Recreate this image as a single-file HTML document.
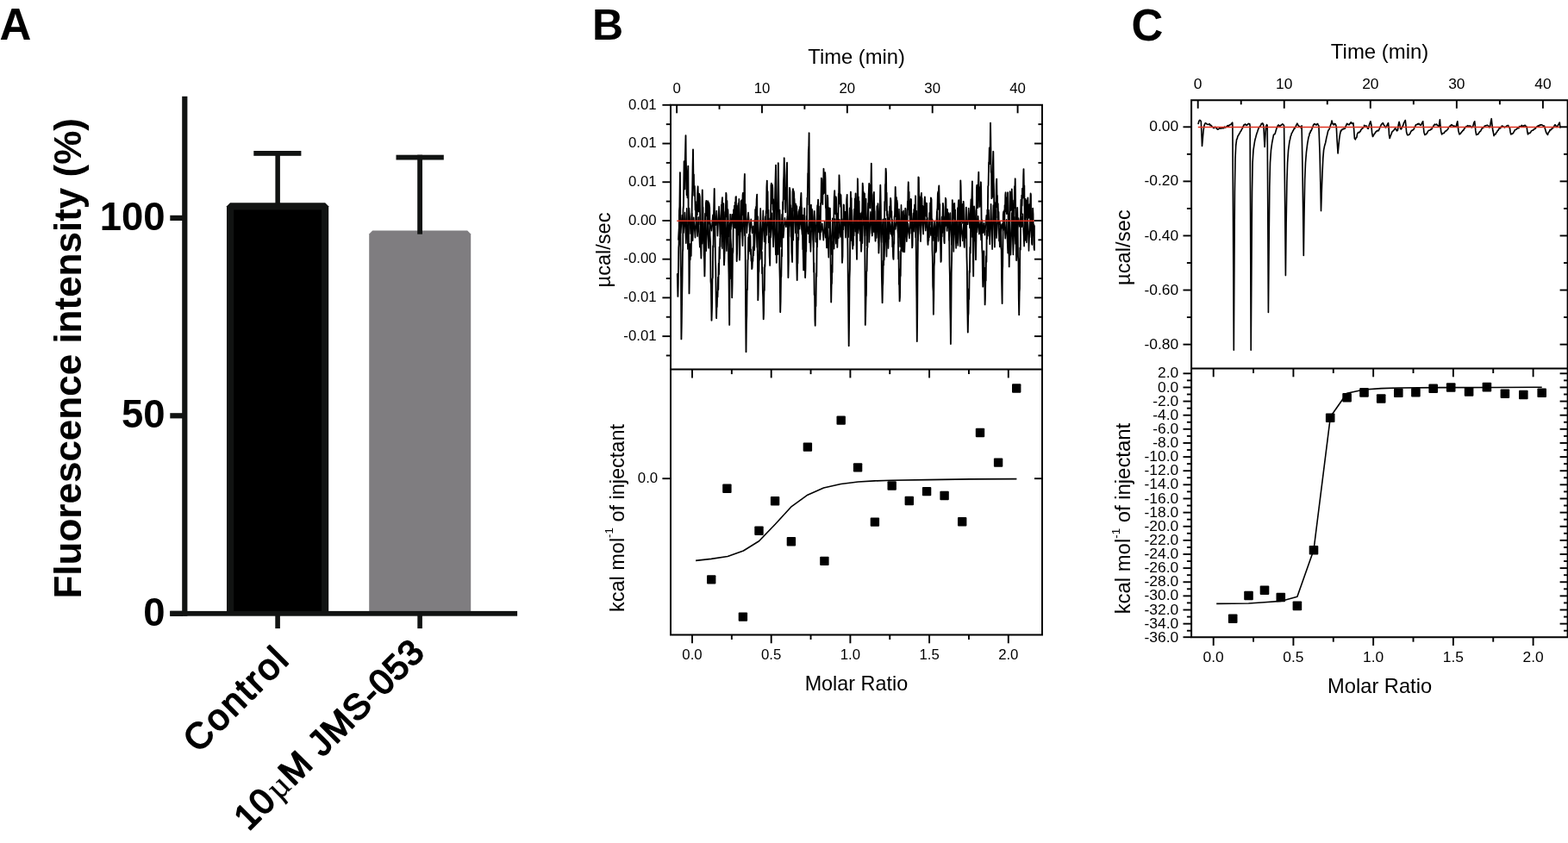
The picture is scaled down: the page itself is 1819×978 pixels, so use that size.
<!DOCTYPE html>
<html lang="en">
<head>
<meta charset="utf-8">
<title>Figure: fluorescence intensity and ITC binding</title>
<style>
html,body{margin:0;padding:0;background:#fff;}
body{width:1819px;height:978px;overflow:hidden;}
svg{display:block;}
text{font-family:"Liberation Sans",Arial,Helvetica,sans-serif;fill:#000;}
</style>
</head>
<body>
<svg width="1819" height="978" viewBox="0 0 1819 978">
<rect x="0" y="0" width="1819" height="978" fill="#fff"/>
<g id="panelA">
<text x="-0.50" y="46.00" font-size="51" font-weight="bold" text-anchor="start">A</text>
<path d="M263.0 710.0 L263.0 239.2 L267.0 235.2 L377.2 235.2 L381.2 239.2 L381.2 710.0 Z" fill="#111312"/>
<rect x="271.20" y="243.40" width="101.80" height="466.60" fill="#000"/>
<path d="M428.2 710.0 L428.2 271.4 L432.2 267.4 L542.2 267.4 L546.2 271.4 L546.2 710.0 Z" fill="#7f7d80"/>
<rect x="319.40" y="175.00" width="5.50" height="62.00" fill="#111312"/>
<rect x="294.30" y="175.00" width="55.10" height="5.80" fill="#111312"/>
<rect x="484.20" y="179.70" width="5.80" height="92.00" fill="#111312"/>
<rect x="459.50" y="179.70" width="55.30" height="5.80" fill="#111312"/>
<rect x="211.20" y="111.80" width="6.20" height="602.90" fill="#111312"/>
<rect x="197.30" y="708.90" width="402.80" height="5.80" fill="#111312"/>
<rect x="197.30" y="249.80" width="14.70" height="6.20" fill="#111312"/>
<rect x="197.30" y="479.20" width="14.70" height="6.20" fill="#111312"/>
<rect x="197.30" y="708.70" width="14.70" height="6.20" fill="#111312"/>
<rect x="319.30" y="714.00" width="5.60" height="15.10" fill="#111312"/>
<rect x="484.30" y="714.00" width="5.60" height="15.10" fill="#111312"/>
<text x="191.60" y="266.60" font-size="45.5" font-weight="bold" text-anchor="end">100</text>
<text x="191.60" y="496.00" font-size="45.5" font-weight="bold" text-anchor="end">50</text>
<text x="191.60" y="725.50" font-size="45.5" font-weight="bold" text-anchor="end">0</text>
<text x="94.30" y="415.80" font-size="44" font-weight="bold" text-anchor="middle" transform="rotate(-90 94.30 415.80)" textLength="557.50" lengthAdjust="spacingAndGlyphs">Fluorescence intensity (%)</text>
<text x="338.20" y="766.40" font-size="42" font-weight="normal" text-anchor="end" transform="rotate(-45 338.20 766.40)" stroke="#000" stroke-width="1.8" stroke-linejoin="round" letter-spacing="2.5">Control</text>
<text x="494.9" y="758.4" font-size="41" text-anchor="end" transform="rotate(-45 494.9 758.4)" stroke="#000" stroke-width="1.8" stroke-linejoin="round" letter-spacing="1.0" xml:space="preserve">10<tspan font-family="'Liberation Serif','DejaVu Serif',serif" font-size="39" stroke-width="0.3" dx="2">µ</tspan>M JMS-053</text>
</g>
<g id="panelB">
<text x="686.90" y="46.20" font-size="50" font-weight="bold" text-anchor="start">B</text>
<g fill="none" stroke="#000" stroke-width="2.0" stroke-linecap="square">
<path d="M778.0 121.8 L1209.0 121.8 L1209.0 736.5 L778.0 736.5 Z M778.0 428.6 L1209.0 428.6"/>
</g>
<g stroke="#000" stroke-width="1.9">
<line x1="785.10" y1="121.8" x2="785.10" y2="131.30"/>
<line x1="834.54" y1="121.8" x2="834.54" y2="126.80"/>
<line x1="883.97" y1="121.8" x2="883.97" y2="131.30"/>
<line x1="933.40" y1="121.8" x2="933.40" y2="126.80"/>
<line x1="982.84" y1="121.8" x2="982.84" y2="131.30"/>
<line x1="1032.28" y1="121.8" x2="1032.28" y2="126.80"/>
<line x1="1081.71" y1="121.8" x2="1081.71" y2="131.30"/>
<line x1="1131.14" y1="121.8" x2="1131.14" y2="126.80"/>
<line x1="1180.58" y1="121.8" x2="1180.58" y2="131.30"/>
<line x1="803.00" y1="428.6" x2="803.00" y2="438.40"/>
<line x1="803.00" y1="736.5" x2="803.00" y2="746.30"/>
<line x1="848.85" y1="428.6" x2="848.85" y2="434.10"/>
<line x1="848.85" y1="736.5" x2="848.85" y2="742.00"/>
<line x1="894.70" y1="428.6" x2="894.70" y2="438.40"/>
<line x1="894.70" y1="736.5" x2="894.70" y2="746.30"/>
<line x1="940.55" y1="428.6" x2="940.55" y2="434.10"/>
<line x1="940.55" y1="736.5" x2="940.55" y2="742.00"/>
<line x1="986.40" y1="428.6" x2="986.40" y2="438.40"/>
<line x1="986.40" y1="736.5" x2="986.40" y2="746.30"/>
<line x1="1032.25" y1="428.6" x2="1032.25" y2="434.10"/>
<line x1="1032.25" y1="736.5" x2="1032.25" y2="742.00"/>
<line x1="1078.10" y1="428.6" x2="1078.10" y2="438.40"/>
<line x1="1078.10" y1="736.5" x2="1078.10" y2="746.30"/>
<line x1="1123.95" y1="428.6" x2="1123.95" y2="434.10"/>
<line x1="1123.95" y1="736.5" x2="1123.95" y2="742.00"/>
<line x1="1169.80" y1="428.6" x2="1169.80" y2="438.40"/>
<line x1="1169.80" y1="736.5" x2="1169.80" y2="746.30"/>
<line x1="768.40" y1="166.52" x2="778.0" y2="166.52"/>
<line x1="1200.00" y1="166.52" x2="1209.0" y2="166.52"/>
<line x1="768.40" y1="211.24" x2="778.0" y2="211.24"/>
<line x1="1200.00" y1="211.24" x2="1209.0" y2="211.24"/>
<line x1="768.40" y1="255.96" x2="778.0" y2="255.96"/>
<line x1="1200.00" y1="255.96" x2="1209.0" y2="255.96"/>
<line x1="768.40" y1="300.68" x2="778.0" y2="300.68"/>
<line x1="1200.00" y1="300.68" x2="1209.0" y2="300.68"/>
<line x1="768.40" y1="345.40" x2="778.0" y2="345.40"/>
<line x1="1200.00" y1="345.40" x2="1209.0" y2="345.40"/>
<line x1="768.40" y1="390.12" x2="778.0" y2="390.12"/>
<line x1="1200.00" y1="390.12" x2="1209.0" y2="390.12"/>
<line x1="772.80" y1="144.16" x2="778.0" y2="144.16"/>
<line x1="1204.40" y1="144.16" x2="1209.0" y2="144.16"/>
<line x1="772.80" y1="188.88" x2="778.0" y2="188.88"/>
<line x1="1204.40" y1="188.88" x2="1209.0" y2="188.88"/>
<line x1="772.80" y1="233.60" x2="778.0" y2="233.60"/>
<line x1="1204.40" y1="233.60" x2="1209.0" y2="233.60"/>
<line x1="772.80" y1="278.32" x2="778.0" y2="278.32"/>
<line x1="1204.40" y1="278.32" x2="1209.0" y2="278.32"/>
<line x1="772.80" y1="323.04" x2="778.0" y2="323.04"/>
<line x1="1204.40" y1="323.04" x2="1209.0" y2="323.04"/>
<line x1="772.80" y1="367.76" x2="778.0" y2="367.76"/>
<line x1="1204.40" y1="367.76" x2="1209.0" y2="367.76"/>
<line x1="772.80" y1="412.48" x2="778.0" y2="412.48"/>
<line x1="1204.40" y1="412.48" x2="1209.0" y2="412.48"/>
<line x1="768.40" y1="555.20" x2="778.0" y2="555.20"/>
<line x1="1200.00" y1="555.20" x2="1209.0" y2="555.20"/>
</g>
<line x1="768.40" y1="121.8" x2="778.0" y2="121.8" stroke="#000" stroke-width="1.9"/>
<text x="785.10" y="107.50" font-size="16.8" font-weight="normal" text-anchor="middle">0</text>
<text x="883.97" y="107.50" font-size="16.8" font-weight="normal" text-anchor="middle">10</text>
<text x="982.84" y="107.50" font-size="16.8" font-weight="normal" text-anchor="middle">20</text>
<text x="1081.71" y="107.50" font-size="16.8" font-weight="normal" text-anchor="middle">30</text>
<text x="1180.58" y="107.50" font-size="16.8" font-weight="normal" text-anchor="middle">40</text>
<text x="993.60" y="74.20" font-size="24" font-weight="normal" text-anchor="middle" textLength="112.60" lengthAdjust="spacingAndGlyphs">Time (min)</text>
<text x="761.60" y="126.60" font-size="16.8" font-weight="normal" text-anchor="end">0.01</text>
<text x="761.60" y="171.32" font-size="16.8" font-weight="normal" text-anchor="end">0.01</text>
<text x="761.60" y="216.04" font-size="16.8" font-weight="normal" text-anchor="end">0.01</text>
<text x="761.60" y="260.76" font-size="16.8" font-weight="normal" text-anchor="end">0.00</text>
<text x="761.60" y="305.48" font-size="16.8" font-weight="normal" text-anchor="end">-0.00</text>
<text x="761.60" y="350.20" font-size="16.8" font-weight="normal" text-anchor="end">-0.01</text>
<text x="761.60" y="394.92" font-size="16.8" font-weight="normal" text-anchor="end">-0.01</text>
<text x="763.20" y="560.10" font-size="16.8" font-weight="normal" text-anchor="end">0.0</text>
<text x="803.00" y="764.80" font-size="16.8" font-weight="normal" text-anchor="middle">0.0</text>
<text x="894.70" y="764.80" font-size="16.8" font-weight="normal" text-anchor="middle">0.5</text>
<text x="986.40" y="764.80" font-size="16.8" font-weight="normal" text-anchor="middle">1.0</text>
<text x="1078.10" y="764.80" font-size="16.8" font-weight="normal" text-anchor="middle">1.5</text>
<text x="1169.80" y="764.80" font-size="16.8" font-weight="normal" text-anchor="middle">2.0</text>
<text x="993.40" y="800.90" font-size="24" font-weight="normal" text-anchor="middle" textLength="119.50" lengthAdjust="spacingAndGlyphs">Molar Ratio</text>
<text x="708.40" y="290.00" font-size="24" font-weight="normal" text-anchor="middle" transform="rotate(-90 708.40 290.00)" textLength="86.80" lengthAdjust="spacingAndGlyphs">µcal/sec</text>
<text x="723.8" y="601" font-size="24" text-anchor="middle" transform="rotate(-90 723.8 601)" textLength="218" lengthAdjust="spacingAndGlyphs">kcal mol<tspan font-size="13.5" dy="-12.5">-1</tspan><tspan dy="12.5"> of injectant</tspan></text>
<path d="M785.8 318.0 L786.4 343.9 L786.8 328.6 L787.3 287.3 L787.6 283.7 L788.0 244.7 L788.4 239.8 L788.9 200.1 L789.2 239.6 L789.7 308.5 L790.0 322.0 L790.4 393.4 L790.8 373.6 L791.2 342.7 L791.5 325.3 L791.9 292.8 L792.2 288.6 L792.5 243.4 L792.9 238.9 L793.6 187.3 L794.0 192.3 L794.3 219.4 L794.8 185.4 L795.5 157.2 L795.8 186.1 L796.2 198.6 L796.6 226.3 L797.0 215.0 L797.5 229.3 L797.8 205.3 L798.3 192.6 L798.7 254.4 L799.1 283.4 L799.5 340.4 L799.9 317.9 L800.2 291.7 L800.7 301.4 L801.0 282.9 L801.3 295.4 L801.7 296.9 L802.1 273.1 L802.4 265.0 L802.8 232.0 L803.2 220.9 L803.6 192.0 L804.0 173.4 L804.5 214.3 L804.9 202.3 L805.2 226.8 L805.8 215.9 L806.2 224.4 L806.6 243.4 L807.0 233.9 L807.3 256.4 L807.6 246.0 L808.0 256.3 L808.4 238.0 L808.8 249.2 L809.2 222.9 L809.6 216.3 L810.0 230.5 L810.4 224.4 L810.7 245.4 L811.2 225.0 L811.8 228.3 L812.2 260.2 L812.6 257.6 L812.9 284.1 L813.4 299.5 L813.7 271.3 L814.1 274.5 L814.4 233.6 L814.8 220.5 L815.2 239.7 L815.5 240.7 L816.0 277.1 L816.3 266.0 L816.7 296.1 L817.0 300.1 L817.4 320.4 L817.7 308.7 L818.1 276.1 L818.4 274.5 L818.9 235.9 L819.3 233.0 L819.7 250.4 L820.0 240.5 L820.5 247.3 L820.8 233.8 L821.1 233.3 L821.5 256.0 L821.8 234.3 L822.1 259.6 L822.6 236.0 L823.2 240.9 L823.6 273.1 L824.1 282.1 L824.5 326.5 L824.9 330.5 L825.5 371.7 L826.0 356.8 L826.4 323.9 L826.8 321.9 L827.1 285.3 L827.5 286.8 L828.0 247.2 L828.7 219.0 L829.1 249.2 L829.5 265.5 L829.9 300.3 L830.3 312.0 L830.7 349.4 L831.1 369.1 L831.5 354.3 L831.8 356.3 L832.2 339.3 L832.5 344.5 L833.0 321.6 L833.3 336.0 L833.7 305.6 L834.0 318.2 L834.5 286.8 L834.9 300.0 L835.3 276.6 L835.6 286.0 L836.0 257.1 L836.5 271.1 L836.8 249.0 L837.2 249.5 L837.5 234.4 L838.0 229.1 L838.4 249.3 L838.8 246.6 L839.2 280.3 L839.5 276.5 L840.0 307.4 L840.4 299.5 L840.7 268.1 L841.0 274.1 L841.4 251.0 L841.8 244.1 L842.3 223.8 L842.6 226.2 L842.9 251.3 L843.4 233.0 L843.8 255.8 L844.4 243.1 L844.8 266.4 L845.1 301.9 L845.5 318.1 L845.9 355.0 L846.2 376.9 L846.6 320.2 L847.3 248.8 L847.6 276.3 L848.1 284.9 L848.5 323.5 L848.9 322.7 L849.2 345.3 L849.6 328.4 L850.0 288.3 L850.4 292.9 L850.8 252.5 L851.1 243.1 L851.6 254.8 L852.0 238.8 L852.3 264.0 L852.8 234.6 L853.1 254.8 L853.5 228.7 L853.9 228.1 L854.7 303.0 L855.1 293.6 L855.5 266.8 L855.9 270.0 L856.2 240.4 L856.6 235.9 L857.0 263.1 L857.4 263.6 L857.9 301.6 L858.2 295.6 L858.6 259.1 L859.0 268.8 L859.6 233.1 L860.0 235.9 L860.4 252.0 L860.7 231.9 L861.1 249.6 L861.6 226.1 L861.9 224.0 L862.2 238.3 L862.7 226.7 L863.1 243.2 L863.5 211.0 L863.9 202.0 L864.3 258.1 L864.7 296.3 L865.1 365.7 L865.5 408.2 L865.9 376.1 L866.3 365.5 L866.6 335.8 L867.0 336.0 L867.5 301.8 L867.8 300.9 L868.2 275.2 L868.6 289.9 L869.0 271.9 L869.4 291.4 L869.7 266.1 L870.0 286.2 L870.4 273.3 L870.7 294.7 L871.1 289.5 L871.5 302.6 L871.9 300.1 L872.2 312.1 L872.6 310.8 L873.0 301.2 L873.4 303.0 L873.7 286.4 L874.1 296.3 L874.6 271.5 L875.0 281.2 L875.4 255.4 L875.9 268.8 L876.2 242.9 L876.5 264.0 L877.0 240.0 L877.3 246.9 L877.7 231.0 L878.2 225.6 L878.6 280.2 L878.9 297.9 L879.3 348.2 L879.6 341.1 L880.0 317.0 L880.4 314.7 L880.8 290.6 L881.2 301.5 L881.5 280.8 L881.8 285.1 L882.2 268.3 L882.6 283.4 L882.9 274.0 L883.4 300.3 L883.8 292.2 L884.1 317.3 L884.5 310.1 L884.9 338.4 L885.2 345.3 L885.7 370.3 L886.0 364.3 L886.4 337.3 L886.8 337.1 L887.2 306.9 L887.5 309.4 L887.8 274.2 L888.2 282.6 L888.7 244.9 L889.0 247.5 L889.4 217.0 L889.8 209.6 L890.1 227.3 L890.6 222.1 L891.0 252.3 L891.4 243.7 L891.8 281.3 L892.3 274.7 L892.7 296.9 L893.2 307.9 L893.5 278.8 L893.9 269.0 L894.5 215.2 L894.9 212.6 L895.3 235.8 L896.0 214.5 L896.3 218.6 L896.7 243.4 L897.1 231.1 L897.5 261.4 L897.8 238.2 L898.3 254.0 L898.6 237.5 L898.9 239.8 L899.3 217.7 L900.0 191.6 L900.8 304.8 L901.2 289.4 L901.7 246.3 L902.1 240.3 L902.8 189.1 L903.1 205.8 L903.6 247.6 L904.0 271.1 L904.4 310.1 L904.8 325.6 L905.2 362.1 L905.6 349.1 L906.0 321.7 L906.3 321.0 L906.8 289.7 L907.1 297.2 L907.4 267.7 L907.8 262.8 L908.1 234.2 L908.5 243.0 L908.9 211.7 L909.3 204.0 L909.7 183.3 L910.1 199.0 L910.5 231.2 L910.9 219.8 L911.3 246.2 L911.7 217.8 L912.1 231.4 L912.4 204.4 L913.0 188.7 L913.3 224.5 L913.7 252.7 L914.4 322.1 L914.8 303.4 L915.1 263.8 L915.5 261.9 L916.0 218.0 L916.5 221.6 L916.9 248.3 L917.2 238.2 L917.6 274.2 L918.0 266.9 L918.4 292.7 L919.1 303.9 L919.6 223.0 L920.0 219.1 L920.3 236.7 L920.7 221.6 L921.2 224.7 L921.5 244.7 L921.8 236.0 L922.2 250.0 L922.6 238.8 L923.1 236.6 L923.6 268.4 L924.0 274.9 L924.3 309.5 L924.7 325.1 L925.1 302.1 L925.4 305.4 L925.9 275.6 L926.3 278.3 L926.6 255.1 L927.2 243.1 L927.5 252.4 L928.0 240.0 L928.4 258.6 L928.8 233.5 L929.4 224.0 L929.8 242.3 L930.1 240.9 L930.5 266.4 L930.9 263.7 L931.3 289.3 L931.6 287.7 L932.2 313.4 L932.5 299.6 L933.2 241.7 L933.5 266.9 L934.1 322.1 L934.5 311.0 L934.8 287.0 L935.2 291.8 L935.7 250.7 L936.0 262.7 L936.4 229.6 L936.7 237.6 L937.2 201.2 L937.5 200.3 L937.9 175.2 L938.3 170.4 L938.6 154.3 L939.1 281.3 L939.5 259.1 L940.0 264.2 L940.5 239.5 L940.9 237.7 L941.2 255.3 L941.6 244.1 L942.0 268.4 L942.4 244.3 L942.9 252.4 L943.3 277.5 L943.6 279.6 L944.0 315.5 L944.3 305.1 L944.7 342.0 L945.1 343.0 L945.4 370.4 L945.7 377.8 L946.1 354.2 L946.5 355.2 L946.9 317.1 L947.3 320.8 L947.7 277.2 L948.1 286.2 L948.5 247.8 L949.1 231.6 L949.5 250.6 L949.9 239.3 L950.3 269.6 L950.8 260.0 L951.3 277.8 L951.6 272.6 L952.1 235.6 L952.4 235.2 L952.9 206.6 L953.3 207.8 L953.6 230.8 L953.9 219.6 L954.3 237.1 L954.6 218.5 L955.0 225.3 L955.5 195.8 L955.8 204.3 L956.2 223.8 L956.6 208.1 L956.9 215.0 L957.2 200.1 L957.5 206.8 L957.9 240.8 L958.3 242.2 L958.7 277.8 L959.1 287.4 L959.9 226.6 L960.3 229.9 L960.7 252.6 L961.1 244.8 L961.5 264.0 L961.9 241.3 L962.3 253.1 L962.9 241.7 L963.3 272.1 L963.7 314.4 L964.2 350.5 L964.6 330.3 L965.0 328.6 L965.3 307.7 L965.6 316.1 L966.0 280.3 L966.5 283.6 L966.9 259.4 L967.3 254.3 L967.7 229.5 L968.2 221.2 L968.6 234.8 L969.0 233.0 L969.3 248.3 L969.8 228.3 L970.1 230.9 L970.5 258.6 L970.8 251.4 L971.3 286.9 L971.7 275.4 L972.1 247.4 L972.4 257.7 L972.8 224.8 L973.1 225.5 L973.5 203.3 L974.0 214.9 L974.4 236.4 L974.7 225.1 L975.2 239.8 L975.5 226.2 L975.8 236.3 L976.3 271.0 L976.6 277.9 L977.0 304.8 L977.5 297.1 L977.8 262.2 L978.2 266.3 L978.7 237.4 L979.0 238.0 L979.4 254.7 L979.7 245.7 L980.2 261.7 L980.6 246.0 L981.0 262.5 L981.5 246.6 L981.8 250.1 L982.2 231.0 L982.7 225.9 L983.1 267.8 L983.5 288.9 L983.8 329.4 L984.1 345.1 L984.7 401.2 L985.1 371.1 L985.5 322.9 L985.9 311.9 L986.3 263.2 L986.9 222.6 L987.2 236.3 L987.6 229.8 L988.0 266.2 L988.4 262.3 L988.7 281.7 L989.2 288.6 L989.5 278.2 L989.9 284.8 L990.3 257.4 L990.6 273.3 L991.1 242.8 L991.4 254.7 L991.8 230.5 L992.2 236.7 L992.6 224.5 L993.0 241.6 L993.5 280.9 L994.0 300.8 L994.9 207.3 L995.2 217.7 L995.6 245.4 L995.9 228.4 L996.3 254.4 L996.6 233.4 L996.9 255.2 L997.3 247.4 L997.7 249.3 L998.0 279.2 L998.5 265.0 L999.1 291.7 L999.4 285.8 L999.8 246.3 L1000.1 253.4 L1000.7 212.7 L1001.1 217.4 L1001.4 235.7 L1001.7 222.6 L1002.2 248.4 L1002.5 224.9 L1003.0 224.5 L1003.8 376.9 L1004.1 368.9 L1004.6 344.5 L1004.9 342.6 L1005.2 315.6 L1005.6 314.3 L1006.0 287.3 L1006.4 287.1 L1006.8 260.7 L1007.2 253.7 L1007.7 226.3 L1008.2 213.0 L1008.5 227.9 L1009.0 218.0 L1009.4 241.3 L1009.8 214.5 L1010.3 219.0 L1010.8 189.7 L1011.1 208.4 L1011.8 273.5 L1012.2 270.5 L1012.6 246.6 L1012.9 258.4 L1013.4 226.1 L1013.9 223.0 L1014.3 243.0 L1014.7 245.4 L1015.0 269.0 L1015.6 279.6 L1016.0 271.3 L1016.4 276.1 L1016.7 255.8 L1017.1 264.0 L1017.4 239.3 L1017.8 254.6 L1018.5 236.2 L1018.9 246.2 L1019.4 293.5 L1019.8 284.1 L1020.3 253.0 L1020.7 245.5 L1021.3 214.7 L1021.8 239.2 L1022.1 269.5 L1022.5 279.4 L1022.9 322.2 L1023.6 351.2 L1024.0 331.9 L1024.3 328.5 L1024.7 302.4 L1025.1 307.5 L1025.5 267.3 L1025.9 270.8 L1026.3 233.9 L1026.7 244.3 L1027.0 214.0 L1027.3 214.3 L1027.6 195.6 L1028.0 200.3 L1028.3 228.9 L1028.6 223.6 L1029.0 249.9 L1029.5 245.2 L1029.9 275.3 L1030.4 287.9 L1030.8 272.3 L1031.1 277.1 L1031.5 252.6 L1031.8 263.0 L1032.2 239.4 L1032.6 246.4 L1033.1 229.9 L1033.5 232.8 L1033.9 252.0 L1034.3 245.1 L1034.7 274.0 L1035.0 254.9 L1035.3 286.3 L1035.7 282.1 L1036.1 297.8 L1036.5 300.9 L1036.9 281.1 L1037.2 283.0 L1037.6 251.6 L1038.0 249.3 L1038.7 217.0 L1039.1 228.7 L1039.5 251.4 L1039.9 228.9 L1040.2 247.9 L1040.6 232.5 L1041.0 236.6 L1041.4 262.3 L1041.7 262.1 L1042.2 300.6 L1042.6 291.7 L1042.9 330.1 L1043.2 327.0 L1043.6 349.4 L1044.0 344.4 L1044.4 312.4 L1044.7 320.4 L1045.1 290.0 L1045.4 291.9 L1045.8 264.4 L1046.2 270.1 L1046.7 246.0 L1047.0 256.2 L1047.4 284.3 L1047.8 292.1 L1048.1 277.3 L1048.4 290.4 L1048.8 261.3 L1049.2 268.9 L1049.6 249.6 L1049.9 254.7 L1050.3 241.7 L1050.6 243.0 L1051.0 259.6 L1051.5 256.6 L1052.1 272.6 L1052.4 269.4 L1052.9 233.4 L1053.2 243.1 L1053.5 217.8 L1053.8 211.3 L1054.2 227.7 L1054.6 222.7 L1054.9 249.5 L1055.3 240.0 L1055.7 256.7 L1056.0 233.9 L1056.3 241.5 L1056.7 230.9 L1057.0 231.5 L1057.4 270.7 L1057.8 265.7 L1058.2 287.4 L1058.5 284.8 L1059.0 256.7 L1059.6 247.4 L1060.0 256.5 L1060.3 243.0 L1060.7 255.3 L1061.1 237.5 L1061.5 251.1 L1062.1 227.3 L1062.5 258.6 L1063.0 316.9 L1063.4 346.2 L1063.8 396.0 L1064.2 364.6 L1064.5 312.6 L1064.8 288.0 L1065.4 205.4 L1065.8 206.0 L1066.2 239.4 L1066.6 228.2 L1066.9 256.3 L1067.2 249.3 L1067.8 271.7 L1068.2 263.0 L1068.5 227.3 L1068.9 224.0 L1069.2 236.5 L1069.5 229.9 L1069.9 256.5 L1070.3 238.7 L1070.6 261.6 L1071.0 249.8 L1071.4 259.6 L1071.8 239.5 L1072.2 248.4 L1072.5 233.8 L1072.9 228.5 L1073.3 240.5 L1073.6 234.9 L1074.0 250.7 L1074.4 237.5 L1075.0 235.9 L1075.4 253.8 L1075.8 252.8 L1076.2 279.7 L1076.5 283.9 L1077.0 274.3 L1077.3 279.1 L1077.6 265.2 L1077.9 275.2 L1078.3 246.9 L1078.8 260.8 L1079.2 235.5 L1079.5 253.0 L1079.9 229.4 L1080.5 231.2 L1080.8 256.2 L1081.1 259.2 L1081.5 290.5 L1081.8 297.9 L1082.2 332.1 L1082.6 337.9 L1082.9 364.7 L1083.3 343.2 L1083.6 309.4 L1084.0 303.2 L1084.3 275.4 L1084.7 291.2 L1085.1 279.3 L1085.5 292.6 L1086.1 290.8 L1086.4 274.3 L1086.8 274.2 L1087.2 243.2 L1087.5 241.4 L1087.9 224.5 L1088.4 222.1 L1088.7 242.7 L1089.0 218.5 L1089.3 215.5 L1089.8 240.4 L1090.2 236.9 L1090.6 279.0 L1091.0 278.7 L1091.5 303.9 L1091.8 302.6 L1092.2 274.9 L1092.7 274.4 L1093.0 252.0 L1093.4 257.6 L1093.9 235.9 L1094.3 240.3 L1094.6 264.8 L1094.9 259.0 L1095.3 279.4 L1095.6 282.2 L1096.0 257.2 L1096.4 261.8 L1096.9 229.8 L1097.4 231.5 L1097.7 252.6 L1098.2 246.4 L1098.6 267.8 L1099.0 242.8 L1099.4 261.8 L1099.8 246.6 L1100.2 256.9 L1100.8 248.1 L1101.2 270.6 L1101.6 307.9 L1101.9 320.6 L1102.3 358.3 L1102.6 372.3 L1102.9 399.1 L1103.3 366.3 L1103.7 316.8 L1104.1 300.9 L1104.8 232.1 L1105.2 237.3 L1105.6 253.9 L1106.0 239.5 L1106.4 252.5 L1106.8 236.7 L1107.2 235.9 L1107.7 253.7 L1108.1 243.4 L1108.5 272.2 L1108.9 257.1 L1109.5 282.2 L1109.9 281.0 L1110.3 263.3 L1110.6 266.6 L1111.0 241.1 L1111.4 251.7 L1111.9 233.9 L1112.2 232.1 L1112.6 254.9 L1113.1 254.4 L1113.5 276.8 L1113.9 285.6 L1114.3 209.4 L1114.6 215.7 L1115.1 240.6 L1115.4 239.9 L1115.8 257.6 L1116.2 241.9 L1116.6 258.8 L1116.9 236.8 L1117.3 245.1 L1117.7 233.8 L1118.1 241.2 L1118.4 282.3 L1118.8 286.9 L1119.1 276.2 L1119.5 276.1 L1119.9 256.0 L1120.3 257.0 L1120.8 240.7 L1121.2 257.7 L1121.5 297.2 L1121.9 311.8 L1122.2 349.5 L1122.8 385.6 L1123.2 366.5 L1123.5 363.5 L1123.9 335.2 L1124.2 346.9 L1124.6 314.3 L1125.0 315.9 L1125.3 286.9 L1125.7 293.7 L1126.1 258.0 L1126.5 268.6 L1126.9 234.1 L1127.3 232.6 L1127.9 210.4 L1128.2 233.2 L1128.5 271.2 L1129.2 320.4 L1129.5 281.9 L1129.8 271.3 L1130.1 239.5 L1130.4 243.2 L1130.9 276.7 L1131.3 270.6 L1132.0 301.3 L1132.4 278.6 L1133.0 217.3 L1133.3 214.8 L1133.7 240.4 L1134.0 218.8 L1134.3 241.1 L1134.7 217.1 L1135.3 199.7 L1135.7 224.4 L1136.1 217.2 L1136.4 239.9 L1136.9 225.7 L1137.2 235.0 L1137.9 211.3 L1138.2 220.4 L1138.6 257.3 L1138.9 258.5 L1139.2 287.4 L1139.6 294.6 L1140.0 322.1 L1140.3 332.6 L1140.7 307.7 L1141.0 319.8 L1141.4 291.3 L1141.7 321.9 L1142.1 310.7 L1142.6 353.4 L1142.9 346.4 L1143.3 324.8 L1143.7 325.6 L1144.0 297.3 L1144.4 303.7 L1144.7 267.8 L1145.1 276.9 L1145.4 243.4 L1145.8 251.3 L1146.2 216.3 L1146.6 214.9 L1147.1 188.5 L1147.4 187.9 L1147.8 171.5 L1148.1 176.6 L1148.5 190.1 L1149.0 142.6 L1149.3 160.8 L1149.7 199.9 L1150.1 198.9 L1150.4 230.2 L1150.9 211.7 L1151.2 228.7 L1151.7 196.5 L1152.3 175.8 L1152.7 210.0 L1153.0 219.7 L1153.5 266.8 L1153.9 286.5 L1154.3 262.8 L1154.7 272.8 L1155.0 234.9 L1155.4 240.6 L1155.8 214.0 L1156.2 207.6 L1156.6 231.3 L1157.0 227.0 L1157.3 252.5 L1157.7 236.1 L1158.1 254.0 L1158.5 246.0 L1159.1 279.6 L1159.5 273.2 L1159.9 286.2 L1160.3 265.9 L1160.6 276.6 L1160.9 260.8 L1161.4 288.3 L1161.7 289.6 L1162.1 327.5 L1162.6 352.0 L1162.9 313.7 L1163.2 308.7 L1163.8 248.8 L1164.2 245.7 L1164.6 258.6 L1164.9 244.3 L1165.3 261.9 L1165.6 238.1 L1166.0 245.6 L1166.3 226.4 L1166.6 223.3 L1167.0 234.1 L1167.4 229.4 L1167.8 248.0 L1168.2 229.2 L1168.7 238.7 L1169.1 223.3 L1169.4 238.1 L1169.8 272.1 L1170.3 278.8 L1170.7 309.4 L1171.1 287.8 L1171.7 222.3 L1172.1 226.8 L1172.5 244.0 L1172.9 230.7 L1173.3 240.0 L1173.8 219.5 L1174.3 237.6 L1174.7 273.5 L1175.1 270.1 L1175.4 250.7 L1175.8 258.1 L1176.2 232.4 L1176.6 241.0 L1177.0 216.1 L1177.3 223.9 L1177.7 207.3 L1178.0 225.8 L1178.5 274.5 L1179.1 302.1 L1179.5 277.4 L1179.9 263.2 L1180.2 240.9 L1180.6 255.4 L1181.0 297.3 L1181.5 304.2 L1181.8 345.8 L1182.2 365.2 L1182.6 338.9 L1182.9 334.8 L1183.3 287.5 L1183.8 289.8 L1184.1 246.3 L1184.5 231.6 L1185.0 248.5 L1185.3 226.6 L1185.6 238.6 L1186.0 218.8 L1186.4 218.9 L1186.8 229.5 L1187.2 205.0 L1187.5 196.1 L1187.9 217.5 L1188.3 215.3 L1188.6 254.1 L1189.0 248.9 L1189.5 278.7 L1189.6 230.9 L1189.9 240.5 L1190.4 232.3 L1190.8 252.4 L1191.2 238.3 L1191.5 249.5 L1192.0 233.6 L1192.4 229.5 L1192.7 241.2 L1193.1 237.4 L1193.4 252.7 L1193.9 242.2 L1194.2 252.7 L1194.6 237.0 L1195.0 245.1 L1195.6 224.5 L1195.9 225.9 L1196.2 260.0 L1196.6 250.8 L1197.0 282.2 L1197.3 283.9 L1198.1 241.7 L1198.5 248.5 L1198.8 272.8 L1199.2 260.3 L1199.6 287.6 L1199.9 290.0 L1199.9 262.0" fill="none" stroke="#000" stroke-width="1.85" stroke-linejoin="round" stroke-linecap="round"/>
<path d="M787.0 277.9 L788.6 250.3 L789.6 270.4 L791.3 249.5 L793.0 269.9 L794.4 246.6 L795.8 282.2 L796.7 241.9 L797.9 289.0 L799.5 241.6 L801.2 271.3 L802.6 247.6 L803.6 279.2 L804.7 252.2 L806.5 275.6 L807.7 249.0 L809.1 274.3 L810.2 251.9 L811.8 286.6 L813.5 258.8 L814.7 282.8 L815.8 258.8 L817.0 295.7 L818.0 247.8 L819.2 291.2 L820.8 250.0 L822.1 288.0 L823.6 257.9 L825.4 267.7 L827.0 249.2 L827.9 273.7 L829.2 252.4 L830.2 261.3 L831.3 244.6 L832.4 273.8 L834.1 239.5 L835.4 274.9 L836.8 237.8 L837.8 288.2 L839.4 236.1 L840.4 294.3 L841.4 245.8 L842.9 291.3 L844.2 243.3 L845.6 274.4 L846.8 258.8 L847.8 265.9 L849.3 248.7 L850.4 263.2 L852.2 250.8 L853.5 265.0 L855.0 238.6 L856.3 272.6 L857.3 230.7 L858.3 276.6 L859.9 238.0 L861.5 285.3 L863.0 231.9 L864.0 273.3 L865.1 237.0 L866.3 270.3 L868.1 246.5 L869.9 268.8 L871.3 254.3 L872.6 270.5 L873.9 262.2 L875.2 290.2 L876.9 250.5 L878.3 286.9 L879.3 251.2 L881.0 297.6 L882.2 241.7 L883.8 289.3 L885.3 244.2 L886.6 280.5 L887.8 251.4 L889.4 272.8 L890.6 247.9 L892.1 269.6 L893.1 253.4 L894.2 275.1 L895.6 247.2 L897.1 286.5 L898.3 246.3 L899.9 295.4 L901.1 242.1 L902.8 295.3 L904.6 243.6 L906.0 286.3 L907.1 248.9 L908.8 275.8 L910.4 252.8 L911.9 263.3 L913.5 250.8 L915.1 265.9 L916.5 239.7 L918.0 275.7 L919.0 241.5 L920.3 278.6 L921.5 230.6 L923.0 270.3 L924.3 239.1 L925.3 270.7 L926.5 245.4 L927.6 265.8 L929.0 250.4 L930.5 271.9 L931.6 249.5 L932.6 268.3 L933.7 258.1 L934.8 278.2 L936.1 261.1 L937.5 271.2 L938.9 250.2 L940.4 292.0 L942.0 242.5 L943.7 287.1 L944.9 244.9 L946.4 280.7 L948.2 238.0 L949.6 268.8 L951.3 257.1 L952.4 269.2 L953.8 259.4 L955.3 278.6 L956.6 256.8 L957.7 275.8 L959.5 255.0 L961.3 298.8 L962.7 253.8 L964.5 295.0 L965.8 253.4 L967.6 288.6 L968.8 254.0 L969.9 282.6 L971.2 258.4 L972.8 276.4 L973.8 254.5 L975.0 274.9 L976.6 253.9 L977.7 262.8 L979.5 246.1 L981.0 275.7 L982.5 236.4 L984.1 275.3 L985.7 241.4 L987.1 279.3 L988.3 243.6 L989.6 275.7 L991.2 250.5 L992.2 268.6 L993.5 249.9 L995.2 270.4 L996.2 251.4 L997.5 272.0 L999.1 247.2 L1000.4 282.3 L1001.7 242.7 L1003.4 273.8 L1004.6 230.5 L1005.6 285.3 L1007.1 235.9 L1008.3 280.9 L1010.0 245.7 L1011.4 271.0 L1012.8 251.1 L1013.9 269.3 L1015.5 259.0 L1016.6 276.0 L1018.3 254.7 L1019.2 281.7 L1021.0 247.7 L1022.6 281.2 L1024.2 254.3 L1025.7 301.8 L1027.3 253.8 L1028.5 297.7 L1029.6 248.3 L1030.9 276.8 L1032.3 259.1 L1033.4 271.8 L1034.4 259.8 L1035.8 272.7 L1037.5 258.0 L1038.8 266.0 L1040.3 249.9 L1042.0 275.5 L1043.0 242.6 L1044.1 286.2 L1045.5 237.7 L1046.9 291.0 L1048.1 244.4 L1049.3 292.4 L1050.7 254.8 L1051.8 280.3 L1053.4 259.3 L1054.9 276.5 L1056.0 254.5 L1057.0 264.8 L1058.4 257.8 L1060.1 268.7 L1061.4 242.0 L1062.3 275.6 L1063.3 244.7 L1065.1 278.9 L1066.2 238.6 L1068.0 280.1 L1069.7 239.1 L1071.1 271.7 L1072.3 243.0 L1073.8 267.6 L1075.0 254.5 L1076.7 270.9 L1078.3 257.0 L1080.0 273.1 L1081.5 254.2 L1083.0 279.3 L1084.1 257.1 L1085.2 278.5 L1086.9 245.6 L1088.5 279.9 L1089.8 238.0 L1091.3 282.1 L1092.7 251.5 L1093.7 270.0 L1095.0 251.4 L1096.7 262.6 L1097.9 256.8 L1099.0 264.1 L1100.1 254.7 L1101.1 278.9 L1102.4 247.0 L1103.9 283.7 L1105.2 244.0 L1106.3 291.9 L1107.5 246.3 L1109.1 288.0 L1110.2 256.3 L1111.3 285.0 L1112.6 246.0 L1113.9 282.4 L1115.2 259.2 L1116.8 279.5 L1117.9 260.9 L1119.4 277.1 L1120.9 254.1 L1122.7 260.2 L1123.7 241.6 L1125.0 264.5 L1126.4 231.2 L1127.8 275.0 L1128.8 240.6 L1130.5 279.5 L1132.3 244.1 L1133.4 269.4 L1134.7 250.7 L1135.9 271.6 L1137.1 257.7 L1138.1 278.5 L1139.2 255.2 L1140.5 270.3 L1141.5 258.5 L1142.5 272.7 L1144.3 249.8 L1146.0 273.7 L1146.9 243.6 L1148.3 283.5 L1149.6 236.8 L1151.1 289.2 L1152.3 238.1 L1154.0 271.8 L1155.0 244.0 L1156.1 276.3 L1157.7 250.4 L1158.8 260.2 L1159.9 256.8 L1161.2 269.3 L1162.4 259.9 L1163.9 266.9 L1165.1 257.7 L1166.3 276.8 L1167.6 254.8 L1169.2 293.8 L1170.9 248.0 L1172.5 295.7 L1173.9 247.0 L1175.4 295.5 L1176.9 251.9 L1178.1 283.0 L1179.4 261.5 L1180.4 265.2 L1181.6 253.0 L1182.8 262.8 L1184.4 250.1 L1185.3 263.1 L1186.4 248.3 L1188.1 285.6 L1189.5 244.4 L1190.9 281.4 L1192.1 247.0 L1193.5 291.0 L1195.1 250.7 L1196.5 275.4 L1198.1 253.1" fill="none" stroke="#000" stroke-width="1.6" stroke-linejoin="round" stroke-linecap="round"/>
<line x1="785.30" y1="256.30" x2="1199.80" y2="256.30" stroke="#e0301e" stroke-width="1.5"/>
<rect x="820.0" y="667.2" width="10.4" height="10.4" rx="1" fill="#000"/>
<rect x="838.2" y="561.6" width="10.4" height="10.4" rx="1" fill="#000"/>
<rect x="856.7" y="710.4" width="10.4" height="10.4" rx="1" fill="#000"/>
<rect x="875.3" y="610.6" width="10.4" height="10.4" rx="1" fill="#000"/>
<rect x="893.9" y="576.0" width="10.4" height="10.4" rx="1" fill="#000"/>
<rect x="912.7" y="623.1" width="10.4" height="10.4" rx="1" fill="#000"/>
<rect x="931.7" y="513.4" width="10.4" height="10.4" rx="1" fill="#000"/>
<rect x="951.2" y="645.7" width="10.4" height="10.4" rx="1" fill="#000"/>
<rect x="970.5" y="482.4" width="10.4" height="10.4" rx="1" fill="#000"/>
<rect x="989.9" y="537.2" width="10.4" height="10.4" rx="1" fill="#000"/>
<rect x="1009.7" y="600.4" width="10.4" height="10.4" rx="1" fill="#000"/>
<rect x="1029.5" y="558.3" width="10.4" height="10.4" rx="1" fill="#000"/>
<rect x="1049.6" y="575.8" width="10.4" height="10.4" rx="1" fill="#000"/>
<rect x="1069.9" y="564.9" width="10.4" height="10.4" rx="1" fill="#000"/>
<rect x="1090.4" y="569.8" width="10.4" height="10.4" rx="1" fill="#000"/>
<rect x="1111.0" y="600.0" width="10.4" height="10.4" rx="1" fill="#000"/>
<rect x="1131.8" y="496.8" width="10.4" height="10.4" rx="1" fill="#000"/>
<rect x="1152.9" y="531.4" width="10.4" height="10.4" rx="1" fill="#000"/>
<rect x="1174.0" y="445.3" width="10.4" height="10.4" rx="1" fill="#000"/>
<path d="M807.1 650.4 L825.2 648.4 L844.2 645.5 L862.4 639.0 L880.5 627.8 L899.5 608.0 L917.6 588.2 L936.9 574.2 L955.5 566.0 L975.5 561.5 L995.5 559.0 L1014.4 557.9 L1034.2 557.2 L1075.5 556.6 L1125.0 555.9 L1179.4 555.6" fill="none" stroke="#000" stroke-width="1.6" stroke-linejoin="round"/>
</g>
<g id="panelC">
<text x="1312.60" y="46.60" font-size="51" font-weight="bold" text-anchor="start">C</text>
<g fill="none" stroke="#000" stroke-width="2.0" stroke-linecap="square">
<path d="M1382.1 116.3 L1818.6 116.3 L1818.6 739.2 L1382.1 739.2 Z M1382.1 427.5 L1818.6 427.5"/>
</g>
<g stroke="#000" stroke-width="1.9">
<line x1="1389.70" y1="116.3" x2="1389.70" y2="125.80"/>
<line x1="1439.73" y1="116.3" x2="1439.73" y2="121.30"/>
<line x1="1489.75" y1="116.3" x2="1489.75" y2="125.80"/>
<line x1="1539.78" y1="116.3" x2="1539.78" y2="121.30"/>
<line x1="1589.80" y1="116.3" x2="1589.80" y2="125.80"/>
<line x1="1639.83" y1="116.3" x2="1639.83" y2="121.30"/>
<line x1="1689.85" y1="116.3" x2="1689.85" y2="125.80"/>
<line x1="1739.88" y1="116.3" x2="1739.88" y2="121.30"/>
<line x1="1789.90" y1="116.3" x2="1789.90" y2="125.80"/>
<line x1="1407.70" y1="427.5" x2="1407.70" y2="437.30"/>
<line x1="1407.70" y1="739.2" x2="1407.70" y2="749.00"/>
<line x1="1454.06" y1="427.5" x2="1454.06" y2="433.00"/>
<line x1="1454.06" y1="739.2" x2="1454.06" y2="744.70"/>
<line x1="1500.42" y1="427.5" x2="1500.42" y2="437.30"/>
<line x1="1500.42" y1="739.2" x2="1500.42" y2="749.00"/>
<line x1="1546.79" y1="427.5" x2="1546.79" y2="433.00"/>
<line x1="1546.79" y1="739.2" x2="1546.79" y2="744.70"/>
<line x1="1593.15" y1="427.5" x2="1593.15" y2="437.30"/>
<line x1="1593.15" y1="739.2" x2="1593.15" y2="749.00"/>
<line x1="1639.51" y1="427.5" x2="1639.51" y2="433.00"/>
<line x1="1639.51" y1="739.2" x2="1639.51" y2="744.70"/>
<line x1="1685.88" y1="427.5" x2="1685.88" y2="437.30"/>
<line x1="1685.88" y1="739.2" x2="1685.88" y2="749.00"/>
<line x1="1732.24" y1="427.5" x2="1732.24" y2="433.00"/>
<line x1="1732.24" y1="739.2" x2="1732.24" y2="744.70"/>
<line x1="1778.60" y1="427.5" x2="1778.60" y2="437.30"/>
<line x1="1778.60" y1="739.2" x2="1778.60" y2="749.00"/>
<line x1="1372.50" y1="147.30" x2="1382.1" y2="147.30"/>
<line x1="1809.60" y1="147.30" x2="1818.6" y2="147.30"/>
<line x1="1372.50" y1="210.38" x2="1382.1" y2="210.38"/>
<line x1="1809.60" y1="210.38" x2="1818.6" y2="210.38"/>
<line x1="1372.50" y1="273.46" x2="1382.1" y2="273.46"/>
<line x1="1809.60" y1="273.46" x2="1818.6" y2="273.46"/>
<line x1="1372.50" y1="336.54" x2="1382.1" y2="336.54"/>
<line x1="1809.60" y1="336.54" x2="1818.6" y2="336.54"/>
<line x1="1372.50" y1="399.62" x2="1382.1" y2="399.62"/>
<line x1="1809.60" y1="399.62" x2="1818.6" y2="399.62"/>
<line x1="1376.90" y1="178.84" x2="1382.1" y2="178.84"/>
<line x1="1814.00" y1="178.84" x2="1818.6" y2="178.84"/>
<line x1="1376.90" y1="241.92" x2="1382.1" y2="241.92"/>
<line x1="1814.00" y1="241.92" x2="1818.6" y2="241.92"/>
<line x1="1376.90" y1="305.00" x2="1382.1" y2="305.00"/>
<line x1="1814.00" y1="305.00" x2="1818.6" y2="305.00"/>
<line x1="1376.90" y1="368.08" x2="1382.1" y2="368.08"/>
<line x1="1814.00" y1="368.08" x2="1818.6" y2="368.08"/>
<line x1="1372.50" y1="433.30" x2="1382.1" y2="433.30"/>
<line x1="1809.60" y1="433.30" x2="1818.6" y2="433.30"/>
<line x1="1372.50" y1="449.43" x2="1382.1" y2="449.43"/>
<line x1="1809.60" y1="449.43" x2="1818.6" y2="449.43"/>
<line x1="1372.50" y1="465.56" x2="1382.1" y2="465.56"/>
<line x1="1809.60" y1="465.56" x2="1818.6" y2="465.56"/>
<line x1="1372.50" y1="481.69" x2="1382.1" y2="481.69"/>
<line x1="1809.60" y1="481.69" x2="1818.6" y2="481.69"/>
<line x1="1372.50" y1="497.82" x2="1382.1" y2="497.82"/>
<line x1="1809.60" y1="497.82" x2="1818.6" y2="497.82"/>
<line x1="1372.50" y1="513.95" x2="1382.1" y2="513.95"/>
<line x1="1809.60" y1="513.95" x2="1818.6" y2="513.95"/>
<line x1="1372.50" y1="530.08" x2="1382.1" y2="530.08"/>
<line x1="1809.60" y1="530.08" x2="1818.6" y2="530.08"/>
<line x1="1372.50" y1="546.21" x2="1382.1" y2="546.21"/>
<line x1="1809.60" y1="546.21" x2="1818.6" y2="546.21"/>
<line x1="1372.50" y1="562.34" x2="1382.1" y2="562.34"/>
<line x1="1809.60" y1="562.34" x2="1818.6" y2="562.34"/>
<line x1="1372.50" y1="578.47" x2="1382.1" y2="578.47"/>
<line x1="1809.60" y1="578.47" x2="1818.6" y2="578.47"/>
<line x1="1372.50" y1="594.60" x2="1382.1" y2="594.60"/>
<line x1="1809.60" y1="594.60" x2="1818.6" y2="594.60"/>
<line x1="1372.50" y1="610.73" x2="1382.1" y2="610.73"/>
<line x1="1809.60" y1="610.73" x2="1818.6" y2="610.73"/>
<line x1="1372.50" y1="626.86" x2="1382.1" y2="626.86"/>
<line x1="1809.60" y1="626.86" x2="1818.6" y2="626.86"/>
<line x1="1372.50" y1="642.99" x2="1382.1" y2="642.99"/>
<line x1="1809.60" y1="642.99" x2="1818.6" y2="642.99"/>
<line x1="1372.50" y1="659.12" x2="1382.1" y2="659.12"/>
<line x1="1809.60" y1="659.12" x2="1818.6" y2="659.12"/>
<line x1="1372.50" y1="675.25" x2="1382.1" y2="675.25"/>
<line x1="1809.60" y1="675.25" x2="1818.6" y2="675.25"/>
<line x1="1372.50" y1="691.38" x2="1382.1" y2="691.38"/>
<line x1="1809.60" y1="691.38" x2="1818.6" y2="691.38"/>
<line x1="1372.50" y1="707.51" x2="1382.1" y2="707.51"/>
<line x1="1809.60" y1="707.51" x2="1818.6" y2="707.51"/>
<line x1="1372.50" y1="723.64" x2="1382.1" y2="723.64"/>
<line x1="1809.60" y1="723.64" x2="1818.6" y2="723.64"/>
<line x1="1376.90" y1="441.37" x2="1382.1" y2="441.37"/>
<line x1="1814.00" y1="441.37" x2="1818.6" y2="441.37"/>
<line x1="1376.90" y1="457.50" x2="1382.1" y2="457.50"/>
<line x1="1814.00" y1="457.50" x2="1818.6" y2="457.50"/>
<line x1="1376.90" y1="473.62" x2="1382.1" y2="473.62"/>
<line x1="1814.00" y1="473.62" x2="1818.6" y2="473.62"/>
<line x1="1376.90" y1="489.75" x2="1382.1" y2="489.75"/>
<line x1="1814.00" y1="489.75" x2="1818.6" y2="489.75"/>
<line x1="1376.90" y1="505.88" x2="1382.1" y2="505.88"/>
<line x1="1814.00" y1="505.88" x2="1818.6" y2="505.88"/>
<line x1="1376.90" y1="522.01" x2="1382.1" y2="522.01"/>
<line x1="1814.00" y1="522.01" x2="1818.6" y2="522.01"/>
<line x1="1376.90" y1="538.14" x2="1382.1" y2="538.14"/>
<line x1="1814.00" y1="538.14" x2="1818.6" y2="538.14"/>
<line x1="1376.90" y1="554.27" x2="1382.1" y2="554.27"/>
<line x1="1814.00" y1="554.27" x2="1818.6" y2="554.27"/>
<line x1="1376.90" y1="570.40" x2="1382.1" y2="570.40"/>
<line x1="1814.00" y1="570.40" x2="1818.6" y2="570.40"/>
<line x1="1376.90" y1="586.53" x2="1382.1" y2="586.53"/>
<line x1="1814.00" y1="586.53" x2="1818.6" y2="586.53"/>
<line x1="1376.90" y1="602.66" x2="1382.1" y2="602.66"/>
<line x1="1814.00" y1="602.66" x2="1818.6" y2="602.66"/>
<line x1="1376.90" y1="618.79" x2="1382.1" y2="618.79"/>
<line x1="1814.00" y1="618.79" x2="1818.6" y2="618.79"/>
<line x1="1376.90" y1="634.92" x2="1382.1" y2="634.92"/>
<line x1="1814.00" y1="634.92" x2="1818.6" y2="634.92"/>
<line x1="1376.90" y1="651.06" x2="1382.1" y2="651.06"/>
<line x1="1814.00" y1="651.06" x2="1818.6" y2="651.06"/>
<line x1="1376.90" y1="667.18" x2="1382.1" y2="667.18"/>
<line x1="1814.00" y1="667.18" x2="1818.6" y2="667.18"/>
<line x1="1376.90" y1="683.32" x2="1382.1" y2="683.32"/>
<line x1="1814.00" y1="683.32" x2="1818.6" y2="683.32"/>
<line x1="1376.90" y1="699.44" x2="1382.1" y2="699.44"/>
<line x1="1814.00" y1="699.44" x2="1818.6" y2="699.44"/>
<line x1="1376.90" y1="715.58" x2="1382.1" y2="715.58"/>
<line x1="1814.00" y1="715.58" x2="1818.6" y2="715.58"/>
<line x1="1376.90" y1="731.70" x2="1382.1" y2="731.70"/>
<line x1="1814.00" y1="731.70" x2="1818.6" y2="731.70"/>
</g>
<line x1="1372.50" y1="739.2" x2="1382.1" y2="739.2" stroke="#000" stroke-width="1.9"/>
<text x="1389.70" y="102.60" font-size="17.4" font-weight="normal" text-anchor="middle">0</text>
<text x="1489.75" y="102.60" font-size="17.4" font-weight="normal" text-anchor="middle">10</text>
<text x="1589.80" y="102.60" font-size="17.4" font-weight="normal" text-anchor="middle">20</text>
<text x="1689.85" y="102.60" font-size="17.4" font-weight="normal" text-anchor="middle">30</text>
<text x="1789.90" y="102.60" font-size="17.4" font-weight="normal" text-anchor="middle">40</text>
<text x="1600.60" y="67.60" font-size="24" font-weight="normal" text-anchor="middle" textLength="113.50" lengthAdjust="spacingAndGlyphs">Time (min)</text>
<text x="1367.20" y="152.40" font-size="17.4" font-weight="normal" text-anchor="end">0.00</text>
<text x="1367.20" y="215.48" font-size="17.4" font-weight="normal" text-anchor="end">-0.20</text>
<text x="1367.20" y="278.56" font-size="17.4" font-weight="normal" text-anchor="end">-0.40</text>
<text x="1367.20" y="341.64" font-size="17.4" font-weight="normal" text-anchor="end">-0.60</text>
<text x="1367.20" y="404.72" font-size="17.4" font-weight="normal" text-anchor="end">-0.80</text>
<text x="1367.20" y="438.40" font-size="17.4" font-weight="normal" text-anchor="end">2.0</text>
<text x="1367.20" y="454.53" font-size="17.4" font-weight="normal" text-anchor="end">0.0</text>
<text x="1367.20" y="470.66" font-size="17.4" font-weight="normal" text-anchor="end">-2.0</text>
<text x="1367.20" y="486.79" font-size="17.4" font-weight="normal" text-anchor="end">-4.0</text>
<text x="1367.20" y="502.92" font-size="17.4" font-weight="normal" text-anchor="end">-6.0</text>
<text x="1367.20" y="519.05" font-size="17.4" font-weight="normal" text-anchor="end">-8.0</text>
<text x="1367.20" y="535.18" font-size="17.4" font-weight="normal" text-anchor="end">-10.0</text>
<text x="1367.20" y="551.31" font-size="17.4" font-weight="normal" text-anchor="end">-12.0</text>
<text x="1367.20" y="567.44" font-size="17.4" font-weight="normal" text-anchor="end">-14.0</text>
<text x="1367.20" y="583.57" font-size="17.4" font-weight="normal" text-anchor="end">-16.0</text>
<text x="1367.20" y="599.70" font-size="17.4" font-weight="normal" text-anchor="end">-18.0</text>
<text x="1367.20" y="615.83" font-size="17.4" font-weight="normal" text-anchor="end">-20.0</text>
<text x="1367.20" y="631.96" font-size="17.4" font-weight="normal" text-anchor="end">-22.0</text>
<text x="1367.20" y="648.09" font-size="17.4" font-weight="normal" text-anchor="end">-24.0</text>
<text x="1367.20" y="664.22" font-size="17.4" font-weight="normal" text-anchor="end">-26.0</text>
<text x="1367.20" y="680.35" font-size="17.4" font-weight="normal" text-anchor="end">-28.0</text>
<text x="1367.20" y="696.48" font-size="17.4" font-weight="normal" text-anchor="end">-30.0</text>
<text x="1367.20" y="712.61" font-size="17.4" font-weight="normal" text-anchor="end">-32.0</text>
<text x="1367.20" y="728.74" font-size="17.4" font-weight="normal" text-anchor="end">-34.0</text>
<text x="1367.20" y="744.87" font-size="17.4" font-weight="normal" text-anchor="end">-36.0</text>
<text x="1407.70" y="767.60" font-size="17.4" font-weight="normal" text-anchor="middle">0.0</text>
<text x="1500.42" y="767.60" font-size="17.4" font-weight="normal" text-anchor="middle">0.5</text>
<text x="1593.15" y="767.60" font-size="17.4" font-weight="normal" text-anchor="middle">1.0</text>
<text x="1685.88" y="767.60" font-size="17.4" font-weight="normal" text-anchor="middle">1.5</text>
<text x="1778.60" y="767.60" font-size="17.4" font-weight="normal" text-anchor="middle">2.0</text>
<text x="1600.60" y="804.20" font-size="24" font-weight="normal" text-anchor="middle" textLength="121.00" lengthAdjust="spacingAndGlyphs">Molar Ratio</text>
<text x="1310.80" y="287.20" font-size="24" font-weight="normal" text-anchor="middle" transform="rotate(-90 1310.80 287.20)" textLength="87.50" lengthAdjust="spacingAndGlyphs">µcal/sec</text>
<text x="1311.5" y="601.6" font-size="24.2" text-anchor="middle" transform="rotate(-90 1311.5 601.6)" textLength="221.5" lengthAdjust="spacingAndGlyphs">kcal mol<tspan font-size="13.5" dy="-12.5">-1</tspan><tspan dy="12.5"> of injectant</tspan></text>
<path d="M1390.1 143.4 L1391.0 140.3 L1391.7 139.4 L1392.3 139.5 L1393.3 140.7 L1393.7 149.5 L1394.5 169.4 L1395.2 161.8 L1396.0 152.0 L1396.9 145.9 L1397.5 144.4 L1398.2 142.8 L1398.8 142.9 L1399.4 143.4 L1400.2 144.0 L1400.9 144.3 L1401.5 144.5 L1402.1 144.4 L1402.7 143.8 L1403.3 143.9 L1403.9 145.6 L1404.5 145.2 L1405.3 145.7 L1406.0 147.1 L1406.8 147.2 L1407.6 148.3 L1408.4 148.7 L1409.2 147.3 L1409.9 147.5 L1410.7 147.8 L1411.3 149.2 L1411.9 149.3 L1412.5 150.2 L1413.3 150.0 L1414.1 149.3 L1414.8 148.5 L1415.6 149.0 L1416.2 149.0 L1416.8 149.1 L1417.4 148.1 L1418.0 148.3 L1418.7 148.8 L1419.3 148.6 L1419.9 148.5 L1420.5 147.1 L1421.1 147.6 L1421.7 147.9 L1422.3 147.4 L1422.9 147.1 L1423.6 146.4 L1424.2 145.6 L1424.8 146.1 L1425.4 146.4 L1426.0 145.2 L1426.6 144.9 L1427.2 144.8 L1427.9 144.6 L1428.5 143.4 L1429.1 143.2 L1429.7 142.2 L1429.9 145.9 L1430.5 251.6 L1431.3 406.3 L1431.9 309.0 L1432.4 223.2 L1433.0 183.9 L1433.7 169.2 L1434.6 161.8 L1435.2 161.0 L1435.8 158.5 L1436.4 157.1 L1437.1 156.6 L1437.7 154.8 L1438.3 154.5 L1438.9 152.6 L1439.6 152.1 L1440.4 150.2 L1441.3 148.9 L1442.0 146.7 L1442.6 145.9 L1443.2 144.7 L1443.8 144.9 L1444.5 144.1 L1445.3 144.4 L1446.1 145.5 L1446.9 144.9 L1447.7 144.0 L1448.5 143.4 L1449.1 143.8 L1449.7 143.7 L1450.1 145.9 L1450.6 251.6 L1451.2 406.3 L1451.9 309.0 L1452.5 223.2 L1453.1 188.8 L1454.0 174.1 L1455.5 164.3 L1456.1 161.5 L1456.7 159.5 L1457.3 157.1 L1458.0 154.7 L1458.8 152.6 L1459.8 149.5 L1460.4 148.2 L1461.0 147.3 L1461.6 146.7 L1462.2 145.9 L1462.8 144.8 L1463.4 143.4 L1464.0 143.9 L1464.7 142.9 L1465.6 144.4 L1466.1 149.5 L1466.6 161.8 L1467.1 170.4 L1467.6 161.8 L1468.1 153.8 L1468.7 146.5 L1469.6 144.6 L1470.2 145.9 L1470.7 231.9 L1471.4 362.5 L1472.1 284.5 L1472.8 217.0 L1473.5 188.8 L1474.5 174.1 L1475.7 165.5 L1477.5 156.3 L1478.2 156.0 L1478.8 155.8 L1479.4 154.4 L1480.4 150.8 L1481.2 148.3 L1482.2 146.1 L1483.1 144.9 L1483.7 146.0 L1484.3 145.9 L1484.9 146.5 L1485.5 145.4 L1486.3 145.3 L1487.0 144.6 L1487.8 143.9 L1488.6 144.4 L1489.6 145.9 L1490.4 212.6 L1491.4 319.6 L1492.1 260.0 L1492.9 210.9 L1493.6 188.8 L1494.6 174.1 L1496.0 163.7 L1496.6 161.5 L1497.2 158.1 L1497.8 157.1 L1498.4 154.4 L1499.0 154.1 L1499.6 152.4 L1500.2 151.6 L1500.9 150.2 L1501.5 148.7 L1502.1 148.9 L1502.7 147.3 L1503.3 146.4 L1503.9 145.2 L1504.9 143.2 L1505.9 145.2 L1507.0 146.5 L1507.6 146.5 L1508.2 147.3 L1508.8 147.0 L1509.4 148.3 L1510.1 145.9 L1511.1 202.1 L1512.3 296.4 L1513.0 247.7 L1513.7 208.4 L1514.5 188.8 L1515.5 176.5 L1516.8 166.1 L1518.0 159.4 L1518.7 157.5 L1519.3 154.4 L1519.9 154.3 L1520.5 151.6 L1521.1 151.8 L1521.7 150.2 L1522.3 148.5 L1522.9 147.1 L1523.6 145.1 L1524.2 144.4 L1524.8 143.6 L1525.4 143.7 L1526.0 144.6 L1526.6 144.6 L1527.2 145.0 L1527.9 144.0 L1528.5 143.5 L1529.1 144.6 L1529.9 145.9 L1531.1 178.8 L1532.5 244.6 L1533.3 220.7 L1534.0 201.1 L1534.8 183.9 L1535.6 174.1 L1536.6 169.2 L1537.7 165.5 L1538.9 159.4 L1539.5 157.1 L1540.1 154.4 L1540.7 151.8 L1541.3 150.8 L1542.0 149.9 L1542.6 148.3 L1543.2 146.2 L1543.8 144.6 L1544.4 143.0 L1545.0 140.0 L1545.9 143.4 L1546.9 144.6 L1547.5 144.9 L1548.1 143.4 L1548.7 143.7 L1549.3 144.0 L1550.3 147.1 L1551.2 164.3 L1552.1 178.0 L1552.9 169.2 L1553.6 161.8 L1554.5 155.7 L1555.5 151.4 L1556.1 151.8 L1556.7 150.5 L1557.3 150.0 L1557.9 150.2 L1558.5 149.1 L1559.1 149.5 L1559.8 149.4 L1560.4 148.9 L1561.0 146.5 L1561.6 145.9 L1562.2 144.1 L1562.8 143.4 L1563.4 143.7 L1564.0 144.4 L1564.7 144.7 L1565.3 144.6 L1565.9 143.3 L1566.5 143.2 L1567.1 141.8 L1567.7 142.2 L1568.3 143.5 L1569.0 143.4 L1569.9 142.8 L1570.6 149.5 L1571.4 160.6 L1572.3 161.8 L1573.1 160.0 L1573.9 159.4 L1574.5 155.7 L1575.1 154.4 L1575.7 153.6 L1576.3 153.5 L1576.9 153.9 L1577.5 152.6 L1578.2 152.4 L1578.8 150.8 L1579.4 149.9 L1580.0 149.5 L1580.6 148.9 L1581.2 148.3 L1581.8 147.7 L1582.5 147.1 L1582.6 145.4 L1583.3 145.8 L1583.9 145.9 L1584.6 146.0 L1585.3 146.0 L1585.9 147.3 L1586.6 149.0 L1587.2 149.3 L1587.9 147.0 L1588.5 144.7 L1589.2 142.6 L1589.9 140.8 L1590.8 144.7 L1591.6 153.9 L1592.5 158.5 L1593.4 157.2 L1594.5 155.2 L1595.1 154.6 L1595.8 153.2 L1596.4 152.4 L1597.1 152.6 L1597.7 151.6 L1598.4 151.3 L1599.1 151.8 L1599.7 150.6 L1600.4 149.0 L1601.0 147.3 L1601.7 146.1 L1602.3 144.7 L1603.4 143.4 L1604.3 142.7 L1605.2 144.7 L1606.3 146.0 L1607.3 148.0 L1608.2 147.3 L1609.4 144.7 L1610.5 142.7 L1611.0 147.3 L1611.5 156.5 L1612.2 160.5 L1613.1 157.8 L1614.2 155.2 L1614.8 153.0 L1615.5 152.6 L1616.1 151.8 L1616.8 151.3 L1617.4 150.4 L1618.1 149.3 L1618.8 148.8 L1619.4 150.0 L1620.5 151.9 L1621.4 151.3 L1622.3 144.7 L1623.1 141.4 L1623.9 144.7 L1624.7 149.3 L1625.3 150.0 L1626.0 148.9 L1626.6 147.3 L1627.3 146.3 L1628.0 144.7 L1628.6 142.3 L1629.3 141.4 L1630.3 139.5 L1631.0 146.0 L1631.6 153.2 L1632.6 156.5 L1633.2 156.8 L1633.9 156.5 L1634.5 156.1 L1635.2 155.9 L1635.8 154.9 L1636.5 153.2 L1637.2 152.0 L1637.8 151.3 L1638.5 151.3 L1639.1 150.6 L1639.8 150.4 L1640.4 149.3 L1641.1 147.1 L1641.8 146.7 L1642.4 144.9 L1643.1 144.7 L1643.7 144.5 L1644.4 143.7 L1645.0 144.4 L1645.7 143.4 L1646.4 143.6 L1647.0 144.7 L1647.7 145.0 L1648.3 145.4 L1649.0 144.2 L1649.6 142.7 L1650.7 140.8 L1651.2 146.0 L1651.9 153.2 L1652.9 156.5 L1653.6 155.9 L1654.2 155.9 L1654.9 155.0 L1655.5 154.6 L1656.2 152.9 L1656.9 151.9 L1657.5 151.4 L1658.2 151.3 L1658.8 151.1 L1659.5 150.6 L1660.1 149.9 L1660.8 150.0 L1661.5 148.3 L1662.1 147.1 L1662.8 146.7 L1663.4 145.4 L1664.3 144.2 L1665.1 144.7 L1665.9 144.5 L1666.7 144.1 L1667.4 145.3 L1668.0 145.8 L1668.7 145.9 L1669.3 146.7 L1669.9 142.1 L1670.4 138.8 L1670.9 144.7 L1671.7 152.6 L1672.6 155.9 L1673.5 154.7 L1674.3 154.6 L1675.1 154.5 L1675.9 153.2 L1676.6 152.3 L1677.2 151.8 L1677.9 151.9 L1678.5 150.9 L1679.2 150.5 L1679.9 149.3 L1680.5 147.7 L1681.2 147.2 L1681.8 146.7 L1682.5 145.7 L1683.1 146.0 L1683.8 144.7 L1684.6 145.1 L1685.4 145.8 L1686.2 146.5 L1687.1 146.0 L1688.1 147.1 L1689.1 147.3 L1690.0 143.4 L1690.8 140.8 L1691.3 146.0 L1691.9 151.9 L1693.0 155.9 L1693.7 155.0 L1694.3 155.2 L1695.0 153.9 L1695.6 153.2 L1696.3 152.5 L1696.9 151.3 L1697.6 151.3 L1698.3 150.0 L1699.0 148.9 L1699.8 148.0 L1700.7 146.8 L1701.5 146.7 L1702.4 145.7 L1703.2 146.0 L1704.0 146.1 L1704.8 146.0 L1705.6 146.0 L1706.4 147.1 L1707.3 147.8 L1708.1 147.3 L1708.8 146.3 L1709.4 144.1 L1710.1 141.8 L1710.7 140.8 L1711.3 146.0 L1711.8 151.9 L1712.7 156.5 L1713.4 155.8 L1714.0 155.9 L1714.7 155.8 L1715.3 154.6 L1716.0 153.8 L1716.6 152.6 L1717.3 152.5 L1718.0 151.3 L1718.6 150.1 L1719.3 148.9 L1719.9 148.7 L1720.6 147.6 L1721.2 147.9 L1721.9 146.7 L1722.6 146.0 L1723.2 145.8 L1723.9 145.8 L1724.5 145.5 L1725.2 145.4 L1725.8 145.4 L1726.5 145.9 L1727.2 146.7 L1727.8 147.8 L1728.5 147.3 L1729.4 141.4 L1730.2 137.7 L1730.8 143.4 L1731.8 151.3 L1732.4 153.8 L1733.1 157.6 L1733.7 155.8 L1734.4 155.9 L1735.0 155.7 L1735.7 153.9 L1736.6 153.3 L1737.4 151.3 L1738.2 151.2 L1739.0 149.3 L1739.6 148.5 L1740.3 148.8 L1741.0 147.3 L1741.6 147.7 L1742.3 146.0 L1742.9 146.0 L1743.7 147.0 L1744.5 147.1 L1745.4 147.8 L1746.2 147.3 L1747.1 147.0 L1747.9 146.0 L1748.7 145.7 L1749.5 145.4 L1750.5 147.1 L1751.5 148.7 L1752.1 153.2 L1752.8 155.9 L1753.4 155.3 L1754.1 155.5 L1754.7 154.7 L1755.4 154.6 L1756.1 153.0 L1756.7 152.3 L1757.4 150.7 L1758.0 150.6 L1758.9 150.2 L1759.7 149.4 L1760.5 148.7 L1761.3 148.7 L1762.0 148.6 L1762.6 146.5 L1763.3 146.7 L1763.9 147.0 L1764.6 146.2 L1765.3 145.4 L1765.9 146.3 L1766.6 146.3 L1767.2 145.8 L1767.9 146.3 L1768.5 145.6 L1769.2 145.4 L1770.3 146.7 L1771.2 147.3 L1771.8 152.6 L1772.5 155.9 L1773.3 154.3 L1774.2 154.6 L1775.0 154.3 L1775.8 153.2 L1776.4 152.0 L1777.1 151.6 L1777.7 151.3 L1778.4 151.1 L1779.1 150.4 L1779.7 150.0 L1780.4 149.2 L1781.0 149.4 L1781.7 148.0 L1782.3 147.8 L1783.0 146.8 L1783.7 146.7 L1784.3 145.8 L1785.0 146.5 L1785.6 145.4 L1786.3 145.1 L1786.9 145.4 L1787.6 144.7 L1788.3 144.8 L1788.9 144.9 L1789.6 145.8 L1790.2 145.9 L1790.9 146.5 L1791.5 146.0 L1792.6 150.0 L1793.5 153.2 L1794.6 155.5 L1795.5 156.3 L1796.1 154.2 L1796.8 153.2 L1797.5 152.5 L1798.1 150.6 L1798.8 150.9 L1799.4 150.3 L1800.1 149.3 L1800.7 149.5 L1801.4 147.5 L1802.1 148.0 L1803.1 146.0 L1804.0 144.7 L1804.7 145.7 L1805.3 146.3 L1806.0 147.5 L1806.6 147.3 L1807.3 145.2 L1808.0 144.7 L1808.6 143.0 L1809.3 142.1 L1809.9 148.0" fill="none" stroke="#000" stroke-width="1.65" stroke-linejoin="round" stroke-linecap="round"/>
<line x1="1389.80" y1="147.60" x2="1809.30" y2="147.60" stroke="#e0301e" stroke-width="1.5"/>
<rect x="1424.9" y="712.4" width="10.6" height="10.6" rx="1" fill="#000"/>
<rect x="1443.2" y="685.7" width="10.6" height="10.6" rx="1" fill="#000"/>
<rect x="1461.7" y="679.4" width="10.6" height="10.6" rx="1" fill="#000"/>
<rect x="1480.5" y="687.7" width="10.6" height="10.6" rx="1" fill="#000"/>
<rect x="1499.6" y="697.6" width="10.6" height="10.6" rx="1" fill="#000"/>
<rect x="1518.7" y="632.9" width="10.6" height="10.6" rx="1" fill="#000"/>
<rect x="1537.9" y="479.5" width="10.6" height="10.6" rx="1" fill="#000"/>
<rect x="1557.3" y="456.0" width="10.6" height="10.6" rx="1" fill="#000"/>
<rect x="1577.2" y="450.1" width="10.6" height="10.6" rx="1" fill="#000"/>
<rect x="1596.9" y="457.2" width="10.6" height="10.6" rx="1" fill="#000"/>
<rect x="1617.0" y="450.4" width="10.6" height="10.6" rx="1" fill="#000"/>
<rect x="1637.1" y="449.9" width="10.6" height="10.6" rx="1" fill="#000"/>
<rect x="1657.4" y="445.5" width="10.6" height="10.6" rx="1" fill="#000"/>
<rect x="1677.9" y="444.2" width="10.6" height="10.6" rx="1" fill="#000"/>
<rect x="1698.8" y="449.1" width="10.6" height="10.6" rx="1" fill="#000"/>
<rect x="1719.6" y="443.8" width="10.6" height="10.6" rx="1" fill="#000"/>
<rect x="1740.6" y="451.5" width="10.6" height="10.6" rx="1" fill="#000"/>
<rect x="1762.0" y="452.7" width="10.6" height="10.6" rx="1" fill="#000"/>
<rect x="1783.4" y="450.4" width="10.6" height="10.6" rx="1" fill="#000"/>
<path d="M1411.2 700.4 L1430.2 700.3 L1448.5 700.0 L1467.0 698.8 L1485.8 697.4 L1504.9 692.3 L1524.0 638.0 L1543.4 483.5 L1562.5 456.3 L1582.4 452.0 L1602.2 450.6 L1622.0 450.0 L1670.9 449.6 L1736.4 449.5 L1788.7 449.2" fill="none" stroke="#000" stroke-width="1.6" stroke-linejoin="round"/>
</g>
</svg>
</body>
</html>
